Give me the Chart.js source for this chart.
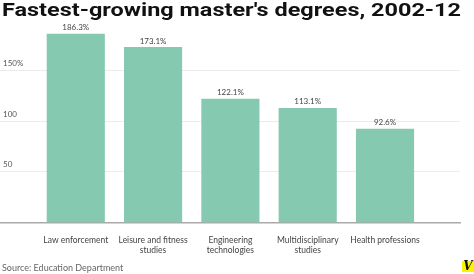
<!DOCTYPE html>
<html>
<head>
<meta charset="utf-8">
<style>
  html, body { margin: 0; padding: 0; background: #fff; }
  #wrap { width: 474px; height: 274px; position: relative; }
</style>
<script src="https://cdn.jsdelivr.net/npm/chart.js@4/dist/chart.umd.min.js"></script>
</head>
<body>
<div id="wrap"><canvas id="degrees-chart" width="474" height="274"></canvas></div>
<script>
// chart data
const title = "Fastest-growing master's degrees, 2002-12";
const source = 'Source: Education Department';
const categories = [
  ['Law enforcement'],
  ['Leisure and fitness', 'studies'],
  ['Engineering', 'technologies'],
  ['Multidisciplinary', 'studies'],
  ['Health professions'],
];
const growth = [186.3, 173.1, 122.1, 113.1, 92.6];
const yTicks = [50, 100, 150];

const barColor = '#84c9b0';
const labelFont = 'Lato, "Open Sans", sans-serif';

// title, source, logo and value labels drawn on the canvas
const annotations = {
  id: 'annotations',
  afterDatasetsDraw(chart) {
    const ctx = chart.ctx;
    const meta = chart.getDatasetMeta(0);
    ctx.save();
    ctx.fillStyle = '#444';
    ctx.font = '8px ' + labelFont;
    ctx.textAlign = 'center';
    ctx.textBaseline = 'middle';
    meta.data.forEach((bar, i) => {
      ctx.fillText(growth[i].toFixed(1) + '%', bar.x, bar.y - 6);
    });
    ctx.restore();
  },
  afterDraw(chart) {
    const ctx = chart.ctx;
    ctx.save();
    // headline, stretched to the width used in the original
    ctx.font = 'bold 17.5px Roboto, "Liberation Sans", sans-serif';
    ctx.fillStyle = '#111';
    ctx.textBaseline = 'alphabetic';
    ctx.textAlign = 'left';
    const w = ctx.measureText(title).width;
    ctx.save();
    ctx.translate(2, 15.5);
    ctx.scale(459 / w, 1);
    ctx.fillText(title, 0, 0);
    ctx.restore();

    // source line
    ctx.font = '9px ' + labelFont;
    ctx.fillStyle = '#666';
    ctx.textBaseline = 'middle';
    ctx.fillText(source, 2, 268);

    // logo
    ctx.fillStyle = '#fff200';
    ctx.fillRect(462, 261, 12, 11);
    ctx.fillStyle = '#111';
    ctx.font = 'italic bold 12px "DejaVu Serif", serif';
    ctx.textAlign = 'center';
    ctx.fillText('V', 468, 267);
    ctx.restore();
  },
};

new Chart(document.getElementById('degrees-chart'), {
  type: 'bar',
  data: {
    datasets: [{
      data: growth.map((v, i) => ({ x: i, y: v })),
      backgroundColor: barColor,
      borderWidth: 0,
      barPercentage: 0.94,
      categoryPercentage: 0.8,
    }],
  },
  options: {
    responsive: false,
    animation: false,
    devicePixelRatio: 1,
    layout: { padding: { top: 30, right: 14, bottom: 0, left: 0 } },
    plugins: {
      legend: { display: false },
      tooltip: { enabled: false },
    },
    scales: {
      x: {
        type: 'linear',
        offset: false,
        min: -0.98,
        max: 4.97,
        afterBuildTicks: (scale) => {
          scale.ticks = categories.map((c, i) => ({ value: i }));
        },
        afterFit: (scale) => { scale.height = 51.5; },
        grid: { display: false, offset: false },
        border: { color: '#aaa', width: 1.5 },
        ticks: {
          autoSkip: false,
          maxRotation: 0,
          padding: 4,
          color: '#444',
          font: { family: labelFont, size: 8.5, lineHeight: 1.25 },
          callback: (v) => categories[v] || '',
        },
      },
      y: {
        min: 0,
        max: 190,
        afterBuildTicks: (scale) => {
          scale.ticks = yTicks.map((v) => ({ value: v }));
        },
        afterFit: (scale) => { scale.width = 0; },
        border: { display: false },
        grid: { color: '#ebebeb', lineWidth: 1, drawTicks: false },
        ticks: {
          mirror: true,
          padding: 3,
          labelOffset: -7,
          color: '#555',
          font: { family: labelFont, size: 8 },
          callback: (v) => (v === 150 ? v + '%' : String(v)),
        },
      },
    },
  },
  plugins: [annotations],
});
</script>
</body>
</html>
